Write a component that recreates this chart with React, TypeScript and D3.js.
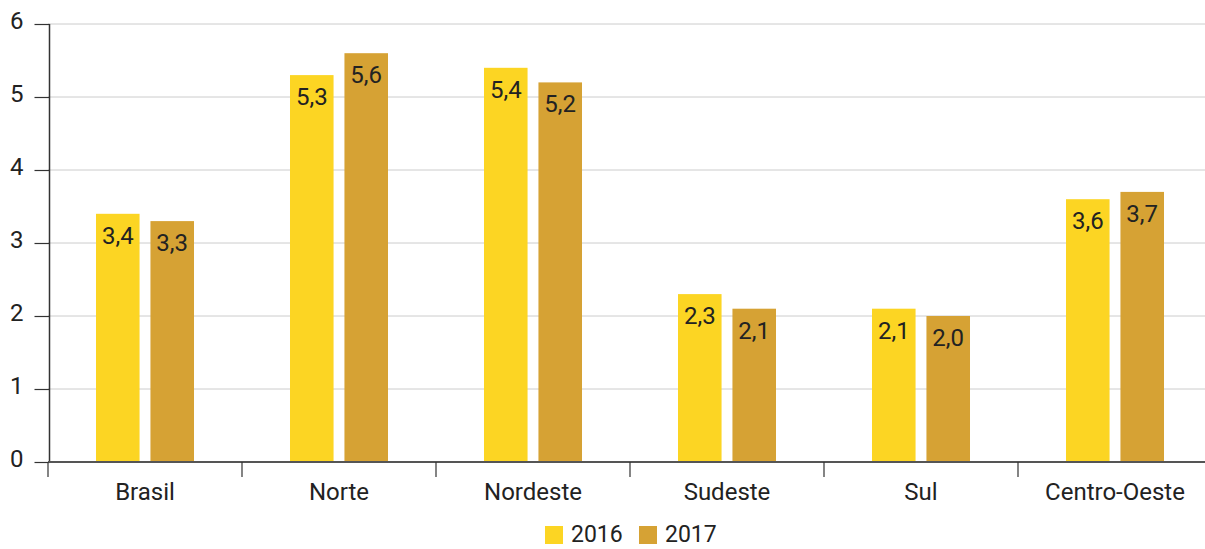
import React, { useEffect, useRef } from "react";
import * as d3 from "d3";

const regions = ["Brasil", "Norte", "Nordeste", "Sudeste", "Sul", "Centro-Oeste"];
const years = ["2016", "2017"];
const values2016 = [3.4, 5.3, 5.4, 2.3, 2.1, 3.6];
const values2017 = [3.3, 5.6, 5.2, 2.1, 2.0, 3.7];
const yTicks = [0, 1, 2, 3, 4, 5, 6];
const colors = ["#fcd523", "#d6a234"];

const W = 1205, H = 549;
const FONT = "Roboto, 'Open Sans', sans-serif";

export default function App() {
  const ref = useRef<SVGSVGElement>(null);

  useEffect(() => {
    const svg = d3.select(ref.current);
    svg.selectAll("*").remove();

    const left = 48, base = 462, top = 24;
    const x0 = d3.scaleBand().domain(regions).range([left, left + 6 * 194]);
    const bw = x0.bandwidth();
    const x1 = d3.scaleBand().domain(years).range([bw * 0.2474, bw * 0.7526]).paddingInner(0.2);
    const y = d3.scaleLinear().domain([0, 6]).range([base, top]);

    // gridlines
    svg.append("g").selectAll("line").data(yTicks.filter(d => d > 0)).join("line")
      .attr("x1", left).attr("x2", W)
      .attr("y1", d => y(d)).attr("y2", d => y(d))
      .attr("stroke", "#cccccc").attr("stroke-width", 1);

    // y axis
    const yAxis = svg.append("g").attr("transform", `translate(${left + 1.5},0)`)
      .call(d3.axisLeft(y).tickValues(yTicks).tickSize(15).tickPadding(11).tickFormat(d3.format("d")));
    yAxis.select(".domain").attr("stroke", "#333").attr("stroke-width", 1.5).attr("d", `M0,${y(6)}V${base}`);
    yAxis.selectAll(".tick line").attr("stroke", "#333").attr("stroke-width", 1.2);
    yAxis.selectAll(".tick text").attr("font-family", FONT).attr("font-size", 24).attr("fill", "#222").attr("dy", "0.2em");

    // bars
    const series = [values2016, values2017];
    const g = svg.append("g");
    regions.forEach((r, i) => {
      years.forEach((yr, j) => {
        const v = series[j][i];
        const bx = (x0(r) as number) + (x1(yr) as number);
        g.append("rect")
          .attr("x", bx).attr("y", y(v))
          .attr("width", x1.bandwidth()).attr("height", base - y(v))
          .attr("fill", colors[j]);
        g.append("text")
          .attr("x", bx + x1.bandwidth() / 2).attr("y", y(v) + 30)
          .attr("text-anchor", "middle")
          .attr("font-family", FONT).attr("font-size", 24).attr("fill", "#222")
          .text(d3.format(".1f")(v).replace(".", ","));
      });
    });

    // x axis
    svg.append("line").attr("x1", left).attr("x2", W).attr("y1", base).attr("y2", base)
      .attr("stroke", "#555").attr("stroke-width", 2);
    svg.append("g").selectAll("line").data(regions).join("line")
      .attr("x1", d => x0(d) as number).attr("x2", d => x0(d) as number)
      .attr("y1", base).attr("y2", base + 15)
      .attr("stroke", "#333").attr("stroke-width", 1.2);
    svg.append("g").selectAll("text").data(regions).join("text")
      .attr("x", d => (x0(d) as number) + bw / 2).attr("y", 500)
      .attr("text-anchor", "middle")
      .attr("font-family", FONT).attr("font-size", 24).attr("fill", "#222")
      .text(d => d);

    // legend
    const lg = svg.append("g");
    const lx = [545, 639];
    years.forEach((yr, j) => {
      lg.append("rect").attr("x", lx[j]).attr("y", 526).attr("width", 18).attr("height", 18).attr("fill", colors[j]);
      lg.append("text").attr("x", lx[j] + 26).attr("y", 542)
        .attr("font-family", FONT).attr("font-size", 23).attr("fill", "#222").text(yr);
    });
  }, []);

  return (
    <svg ref={ref} width={W} height={H} style={{ position: "absolute", left: 0, top: 0 }} />
  );
}
